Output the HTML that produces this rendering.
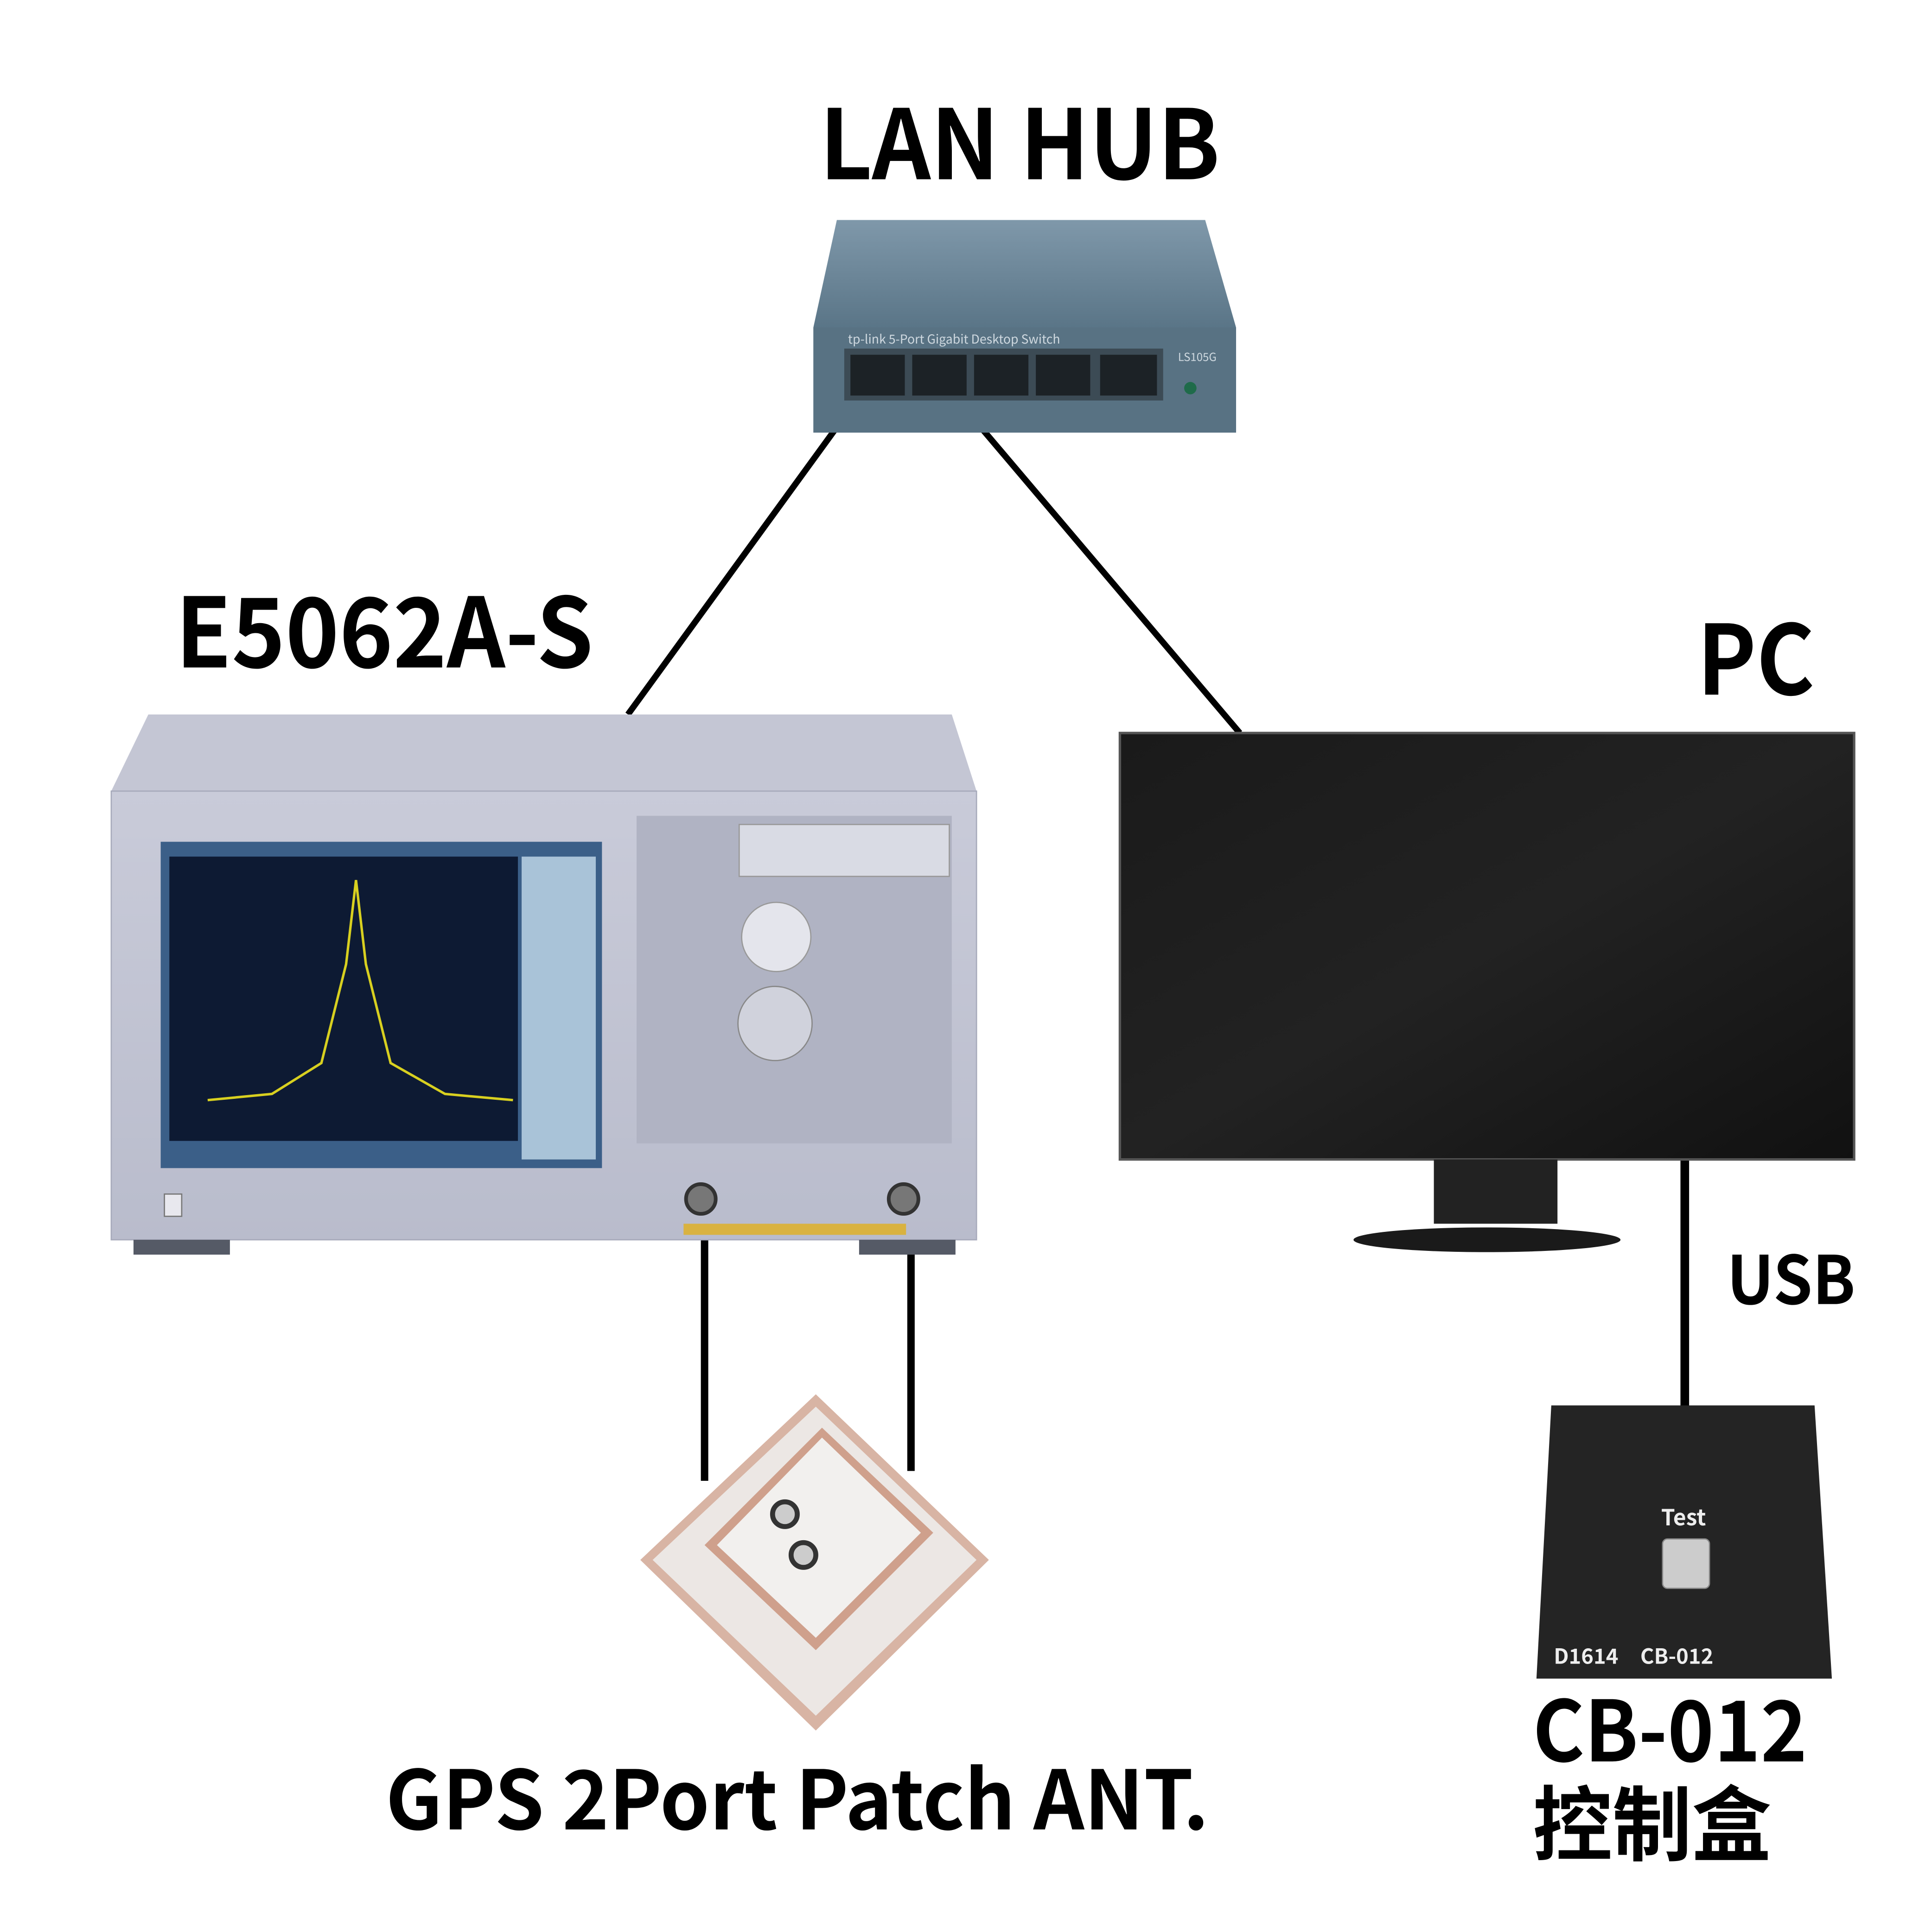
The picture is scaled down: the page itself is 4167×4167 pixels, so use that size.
<!DOCTYPE html>
<html><head><meta charset="utf-8"><style>
html,body{margin:0;padding:0;background:#fff;}
svg{display:block;}
text{font-family:"Noto Sans CJK SC","Liberation Sans",sans-serif;font-weight:700;fill:#000;}
</style></head><body>
<svg width="4167" height="4167" viewBox="0 0 1563 1563" xmlns="http://www.w3.org/2000/svg">
<defs>
<linearGradient id="sw" x1="0" y1="0" x2="0" y2="1"><stop offset="0" stop-color="#7f98aa"/><stop offset="1" stop-color="#5a7587"/></linearGradient>
<linearGradient id="an" x1="0" y1="0" x2="0" y2="1"><stop offset="0" stop-color="#c9cbd9"/><stop offset="1" stop-color="#b9bccc"/></linearGradient>
<linearGradient id="mon" x1="0" y1="0" x2="1" y2="1"><stop offset="0" stop-color="#1a1a1a"/><stop offset="0.5" stop-color="#222"/><stop offset="1" stop-color="#111"/></linearGradient>
</defs>

<line x1="697" y1="318" x2="508" y2="578" stroke="#000" stroke-width="5"/>
<line x1="770" y1="318" x2="1003" y2="593" stroke="#000" stroke-width="5"/>
<line x1="1363" y1="938" x2="1363" y2="1138" stroke="#000" stroke-width="7"/>
<line x1="570" y1="965" x2="570" y2="1198" stroke="#000" stroke-width="6"/>
<line x1="737" y1="965" x2="737" y2="1190" stroke="#000" stroke-width="6"/>

<text x="663" y="145" font-size="78" textLength="324" lengthAdjust="spacingAndGlyphs">LAN HUB</text>
<polygon points="677,178 975,178 1000,265 658,265" fill="url(#sw)"/>
<rect x="658" y="265" width="342" height="85" fill="#587283"/>
<rect x="683" y="282" width="258" height="42" fill="#3c4b55"/>
<g fill="#1c2226"><rect x="688" y="287" width="44" height="33"/><rect x="738" y="287" width="44" height="33"/><rect x="788" y="287" width="44" height="33"/><rect x="838" y="287" width="44" height="33"/><rect x="890" y="287" width="46" height="33"/></g>
<circle cx="963" cy="314" r="5" fill="#1f6b4a"/>
<text x="686" y="278" font-size="10" style="fill:#cfd9e0;font-weight:400">tp-link 5-Port Gigabit Desktop Switch</text>
<text x="953" y="292" font-size="9" style="fill:#cfd9e0;font-weight:400">LS105G</text>

<text x="142" y="540" font-size="78" textLength="338" lengthAdjust="spacingAndGlyphs">E5062A-S</text>
<polygon points="120,578 770,578 790,640 90,640" fill="#c4c6d4"/>
<rect x="90" y="640" width="700" height="363" fill="url(#an)" stroke="#a7aabb"/>
<rect x="108" y="1003" width="78" height="12" fill="#555a66"/>
<rect x="695" y="1003" width="78" height="12" fill="#555a66"/>
<rect x="130" y="681" width="357" height="264" fill="#3b5f88"/>
<rect x="137" y="693" width="282" height="230" fill="#0d1a33"/>
<rect x="422" y="693" width="60" height="245" fill="#a9c3d8"/>
<polyline points="168,890 220,885 260,860 280,780 288,712 296,780 316,860 360,885 415,890" fill="none" stroke="#d8d020" stroke-width="2"/>
<rect x="515" y="660" width="255" height="265" fill="#b0b3c3"/>
<rect x="598" y="667" width="170" height="42" fill="#d9dbe4" stroke="#999"/>
<circle cx="628" cy="758" r="28" fill="#e4e5ec" stroke="#999"/>
<circle cx="627" cy="828" r="30" fill="#d0d2dc" stroke="#888"/>
<rect x="553" y="990" width="180" height="9" fill="#d9b240"/>
<circle cx="567" cy="970" r="12" fill="#777" stroke="#333" stroke-width="3"/>
<circle cx="731" cy="970" r="12" fill="#777" stroke="#333" stroke-width="3"/>
<rect x="133" y="966" width="14" height="18" fill="#e8e8ee" stroke="#777"/>

<text x="1373" y="562" font-size="78" textLength="95" lengthAdjust="spacingAndGlyphs">PC</text>
<rect x="906" y="593" width="594" height="345" fill="url(#mon)" stroke="#555" stroke-width="2"/>
<rect x="1160" y="938" width="100" height="52" fill="#222"/>
<ellipse cx="1203" cy="1003" rx="108" ry="10" fill="#1a1a1a"/>
<text x="1397" y="1055" font-size="54" textLength="104" lengthAdjust="spacingAndGlyphs">USB</text>

<polygon points="1255,1137 1468,1137 1482,1358 1243,1358" fill="#242424"/>
<text x="1362" y="1234" font-size="18" text-anchor="middle" style="fill:#eee">Test</text>
<rect x="1345" y="1245" width="38" height="40" rx="4" fill="#ccc" stroke="#888"/>
<text x="1257" y="1346" font-size="17" style="fill:#eee">D1614</text>
<text x="1327" y="1346" font-size="17" style="fill:#eee">CB-012</text>
<text x="1240" y="1425" font-size="68" textLength="222" lengthAdjust="spacingAndGlyphs">CB-012</text>
<text x="1240" y="1500" font-size="66" textLength="193" lengthAdjust="spacingAndGlyphs">控制盒</text>

<polygon points="660,1128 800,1262 660,1400 518,1262" fill="#d8b4a4"/>
<polygon points="660,1138 790,1262 660,1388 528,1262" fill="#ece7e4"/>
<polygon points="665,1155 755,1240 660,1335 570,1250" fill="#cfa08c"/>
<polygon points="665,1163 745,1240 660,1325 580,1250" fill="#f2f0ee"/>
<circle cx="635" cy="1225" r="10" fill="#ccc" stroke="#333" stroke-width="4"/>
<circle cx="650" cy="1258" r="10" fill="#ccc" stroke="#333" stroke-width="4"/>
<text x="312" y="1480" font-size="66" textLength="666" lengthAdjust="spacingAndGlyphs">GPS 2Port Patch ANT.</text>
</svg>
</body></html>
